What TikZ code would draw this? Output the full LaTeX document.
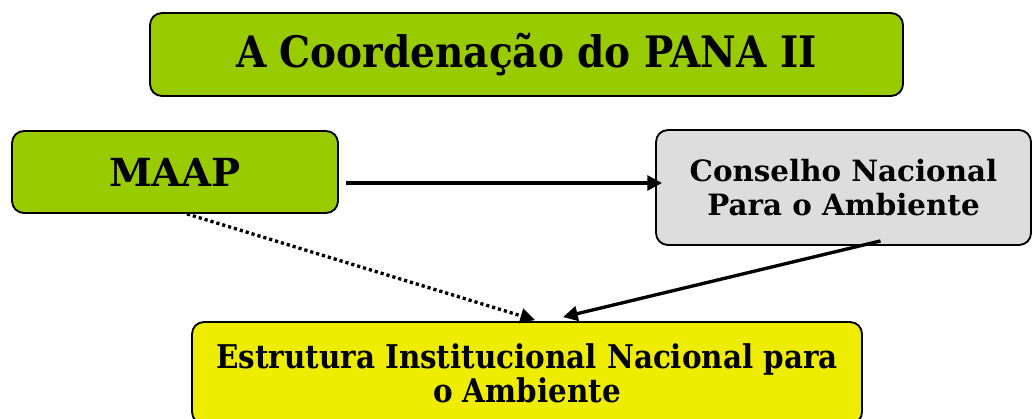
\documentclass[tikz,border=0pt]{standalone}
\usepackage{fontspec}
\setmainfont{DejaVu Serif}
\newfontfamily\condfont{DejaVu Serif Condensed}
\usetikzlibrary{arrows.meta}
\definecolor{verde}{RGB}{153,204,0}
\definecolor{cinza}{RGB}{221,221,221}
\definecolor{amarelo}{RGB}{238,236,0}
\begin{document}
\begin{tikzpicture}[x=0.75pt,y=-0.75pt,
	caixa/.style={draw=black, line width=1.4pt, rounded corners=9pt, inner sep=0pt, align=center},
	seta/.style={line width=2.5pt, -{Triangle[length=11pt,width=11pt]}},
	setapont/.style={seta, dash pattern=on 2.4pt off 2.2pt}]
	\useasboundingbox (0,0) rectangle (1032,418);
	\node[caixa, fill=verde, minimum width=564.75pt, minimum height=62.25pt,
		font=\condfont\fontsize{32.5}{36}\selectfont\bfseries] (title) at (526.5,54.5)
		{A Coordenação do PANA II};
	\node[caixa, fill=verde, minimum width=244.5pt, minimum height=61.5pt,
		font=\fontsize{29}{32}\selectfont\bfseries] (maap) at (175,172) {MAAP};
	\node[caixa, fill=cinza, minimum width=281.25pt, minimum height=86.25pt,
		font=\fontsize{22}{25.5}\selectfont\bfseries] (conselho) at (843.5,187.5)
		{Conselho Nacional\\Para o Ambiente};
	\node[caixa, fill=amarelo, minimum width=502.5pt, minimum height=76.5pt,
		font=\condfont\fontsize{24.5}{25.5}\selectfont\bfseries] (estrutura) at (527,373)
		{Estrutura Institucional Nacional para\\o Ambiente};
	% ligacoes
	\draw[seta] ([shift={(7,11)}]maap.east) -- ([shift={(7,11)}]maap.east -| conselho.west);
	\draw[setapont] ([xshift=9pt]maap.south) -- ([shift={(8,-1)}]estrutura.north);
	\draw[seta] ([shift={(37,-5)}]conselho.south) -- ([shift={(36,-4)}]estrutura.north);
\end{tikzpicture}
\end{document}
